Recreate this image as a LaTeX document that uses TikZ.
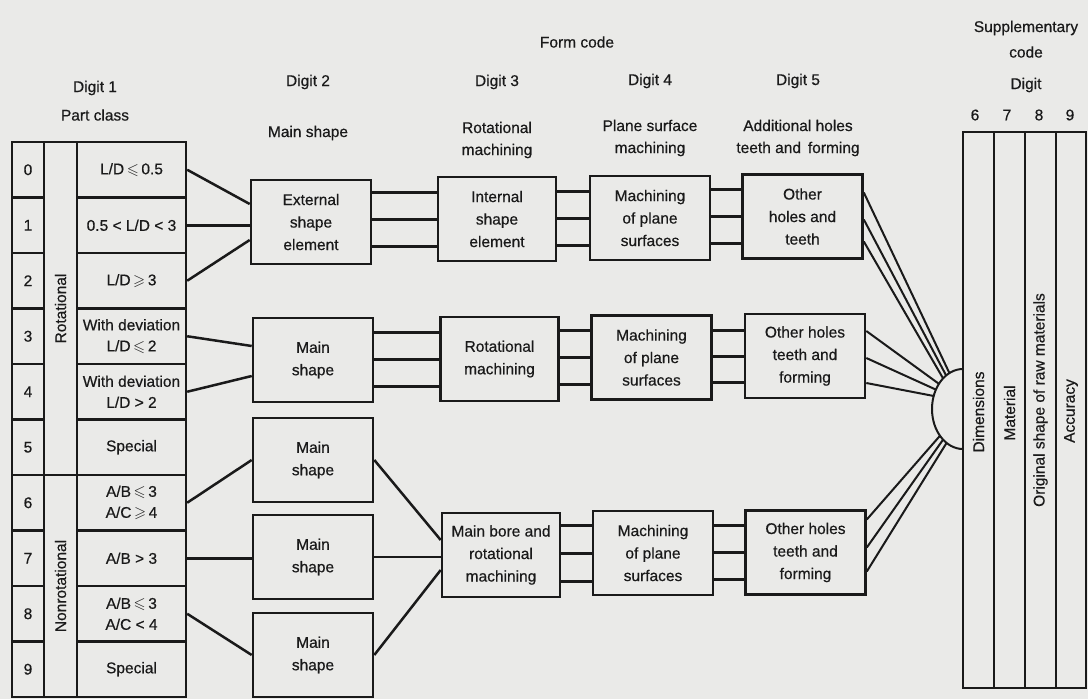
\documentclass[tikz,border=0pt]{standalone}
\usepackage{fontspec}
\setmainfont{Liberation Sans}[UprightFeatures={FakeBold=0.5}]
\usepackage{amssymb}
\usetikzlibrary{calc}
\definecolor{paper}{RGB}{234,234,232}
\definecolor{ink}{RGB}{26,26,26}

% three parallel horizontal links between two boxes, at the heights of the right box
\newcommand\tripleline[3]{%
  \foreach \o in {-1,0,1}{%
    \draw[triple] ($(#1.east |- #2.west)+(0,{\o*#3})$) -- ($(#2.west)+(0,{\o*#3})$);%
  }%
}

\begin{document}
\begin{tikzpicture}[x=1pt,y=-1pt,
  every node/.style={font=\fontsize{15.5}{21}\selectfont, text=ink},
  cell/.style={draw=ink, line width=2.4pt, minimum height=55.5pt, align=center, inner sep=0pt},
  box/.style={draw=ink, line width=2.6pt, minimum width=120pt, minimum height=84pt,
              align=center, inner sep=2pt, font=\fontsize{15.5}{22.5}\selectfont},
  supcol/.style={draw=ink, line width=2.2pt, minimum height=556pt, inner sep=0pt},
  head/.style={align=center, font=\fontsize{15.5}{22}\selectfont},
  link/.style={draw=ink, line width=2.5pt},
  triple/.style={draw=ink, line width=3pt},
  fan/.style={draw=ink, line width=2pt}
]
\useasboundingbox (0,0) rectangle (1088,699);
\fill[paper] (0,0) rectangle (1088,699);

% ---------- headings ----------
\node[head] (formcode) at (577,42) {Form code};
\node[head] (h1a) at (95,88) {Digit 1};
\node[head] (h1b) at (95,115) {Part class};
\node[head] (h2a) at (308,82) {Digit 2};
\node[head] (h2b) at (308,133) {Main shape};
\node[head] (h3a) at (497,82) {Digit 3};
\node[head] (h3b) at (497,140) {Rotational\\machining};
\node[head] (h4a) at (650,81) {Digit 4};
\node[head] (h4b) at (650,138) {Plane surface\\machining};
\node[head] (h5a) at (798,81) {Digit 5};
\node[head] (h5b) at (798,138) {Additional holes\\teeth and\, forming};
\node[head] (hs1) at (1026,28) {Supplementary};
\node[head] (hs2) at (1026,52) {code};
\node[head] (hs3) at (1026,85) {Digit};
\node[head] (hd6) at (975,115) {6};
\node[head] (hd7) at (1007,115) {7};
\node[head] (hd8) at (1039,115) {8};
\node[head] (hd9) at (1070,115) {9};

% ---------- digit 1: part class table ----------
\foreach \i in {0,...,9}{
  \node[cell, minimum width=32pt] (n\i) at (28,{169.75+55.5*\i}) {\i};
}
\node[cell, minimum width=33pt, minimum height=333pt] (rotc) at (60.5,308.5) {};
\node[rotate=90] (rotl) at (rotc) {Rotational};
\node[cell, minimum width=33pt, minimum height=222pt] (nrotc) at (60.5,586) {};
\node[rotate=90] (nrotl) at (nrotc) {Nonrotational};

\tikzset{desc/.style={cell, minimum width=109pt}}
\node[desc] (d0) at (131.5,169.75) {L/D\,$\leqslant$\,0.5};
\node[desc] (d1) at (131.5,225.25) {0.5 {\textless} L/D {\textless} 3};
\node[desc] (d2) at (131.5,280.75) {L/D\,$\geqslant$\,3};
\node[desc] (d3) at (131.5,336.25) {With deviation\\L/D\,$\leqslant$\,2};
\node[desc] (d4) at (131.5,391.75) {With deviation\\L/D {\textgreater} 2};
\node[desc] (d5) at (131.5,447.25) {Special};
\node[desc] (d6) at (131.5,502.75) {A/B\,$\leqslant$\,3\\A/C\,$\geqslant$\,4};
\node[desc] (d7) at (131.5,558.25) {A/B {\textgreater} 3};
\node[desc] (d8) at (131.5,613.75) {A/B\,$\leqslant$\,3\\A/C {\textless} 4};
\node[desc] (d9) at (131.5,669.25) {Special};

% ---------- digit 2 ----------
\node[box] (ext)   at (311,222) {External\\shape\\element};
\node[box] (main2) at (313,360) {Main\\shape};
\node[box] (main3) at (313,460) {Main\\shape};
\node[box] (main4) at (313,557) {Main\\shape};
\node[box] (main5) at (313,655) {Main\\shape};

% ---------- digit 3 ----------
\node[box, minimum width=118pt] (int)  at (497,219) {Internal\\shape\\element};
\node[box, minimum width=118pt] (rot)  at (499.5,359) {Rotational\\machining};
\node[box, minimum width=118pt] (bore) at (501,555) {Main bore and\\rotational\\machining};

% ---------- digit 4 ----------
\node[box] (mach1) at (650,218) {Machining\\of plane\\surfaces};
\node[box] (mach2) at (651.5,357.5) {Machining\\of plane\\surfaces};
\node[box] (mach3) at (653,553) {Machining\\of plane\\surfaces};

% ---------- digit 5 ----------
\node[box] (oth1) at (802.5,216.5) {Other\\holes and\\teeth};
\node[box] (oth2) at (805,356) {Other holes\\teeth and\\forming};
\node[box] (oth3) at (805.5,552.5) {Other holes\\teeth and\\forming};

% ---------- supplementary code columns ----------
\node[supcol, minimum width=31pt] (s6) at (978.5,410) {};
\node[supcol, minimum width=31pt] (s7) at (1009.5,410) {};
\node[supcol, minimum width=31pt] (s8) at (1040.5,410) {};
\node[supcol, minimum width=30pt] (s9) at (1071,410) {};
\node[rotate=90] (l6) at (978.5,412) {Dimensions};
\node[rotate=90] (l7) at (1009.5,413) {Material};
\node[rotate=90] (l8) at (1040.5,400) {Original shape of raw materials};
\node[rotate=90] (l9) at (1071,411) {Accuracy};

% collecting half-disc on the dimensions column
\coordinate (hub) at (963,409);
\draw[fan] ($(hub)+(-90:31 and 40)$) arc[start angle=-90, end angle=-270, x radius=31, y radius=40];

% ---------- links from part classes to main shapes ----------
\draw[link] (d0.east) -- ([yshift=18pt]ext.west);
\draw[link] (d1.east) -- (d1.east -| ext.west);
\draw[link] (d2.east) -- ([yshift=-18pt]ext.west);
\draw[link] (d3.east) -- ([yshift=14pt]main2.west);
\draw[link] (d4.east) -- ([yshift=-16pt]main2.west);
\draw[link] (d6.east) -- (main3.west);
\draw[link] (d7.east) -- (d7.east -| main4.west);
\draw[link] (d8.east) -- (main5.west);

% ---------- nonrotational main shapes into the main bore ----------
\draw[link] (main3.east) -- ([yshift=15pt]bore.west);
\draw[link] (main4.east) -- (main4.east -| bore.west);
\draw[link] (main5.east) -- ([yshift=-15pt]bore.west);

% ---------- parallel links along each chain ----------
\tripleline{ext}{int}{27}
\tripleline{int}{mach1}{27}
\tripleline{mach1}{oth1}{27}
\tripleline{main2}{rot}{27}
\tripleline{rot}{mach2}{27}
\tripleline{mach2}{oth2}{26}
\tripleline{bore}{mach3}{28}
\tripleline{mach3}{oth3}{27}

% ---------- fans into the supplementary code ----------
\draw[fan] ([yshift=24pt]oth1.east)  -- ($(hub)+(-116:31 and 40)$);
\draw[fan] ([yshift=-3pt]oth1.east)  -- ($(hub)+(-123:31 and 40)$);
\draw[fan] ([yshift=-25pt]oth1.east) -- ($(hub)+(-130:31 and 40)$);
\draw[fan] ([yshift=25pt]oth2.east)  -- ($(hub)+(-141:31 and 40)$);
\draw[fan] ([yshift=-2pt]oth2.east)  -- ($(hub)+(-151:31 and 40)$);
\draw[fan] ([yshift=-27pt]oth2.east) -- ($(hub)+(-161:31 and 40)$);
\draw[fan] ([yshift=33pt]oth3.east)  -- ($(hub)+(138:31 and 40)$);
\draw[fan] ([yshift=5pt]oth3.east)   -- ($(hub)+(130:31 and 40)$);
\draw[fan] ([yshift=-19pt]oth3.east) -- ($(hub)+(122:31 and 40)$);
\end{tikzpicture}
\end{document}
